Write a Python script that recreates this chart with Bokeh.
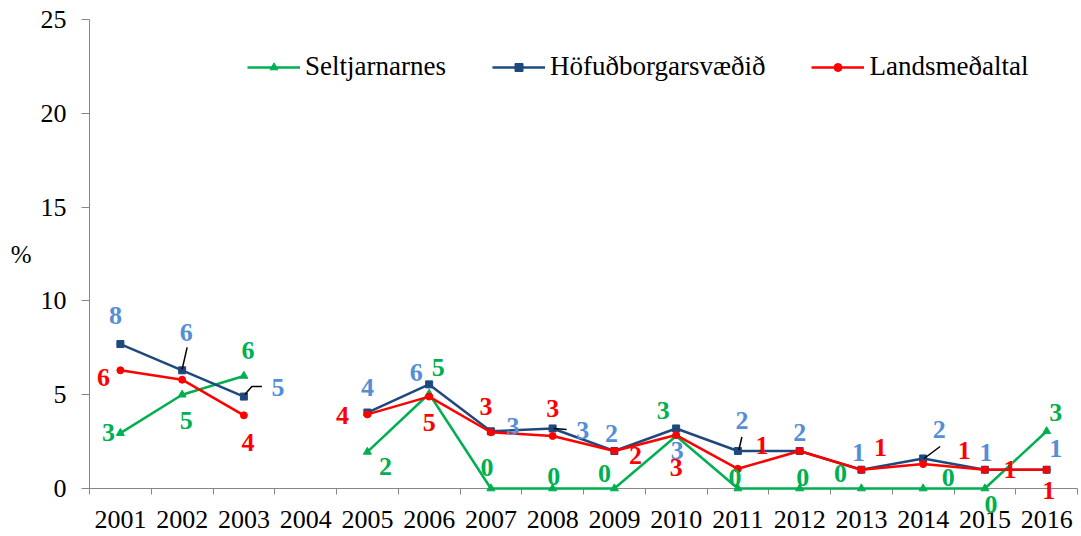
import math
from bokeh.plotting import figure
from bokeh.models import Range1d, FixedTicker, Legend, LegendItem, ColumnDataSource
from bokeh.core.properties import value
from bokeh.embed import file_html
from bokeh.resources import INLINE

NaN = float("nan")

# ---------------- data ----------------
years = ["2001", "2002", "2003", "2004", "2005", "2006", "2007", "2008",
         "2009", "2010", "2011", "2012", "2013", "2014", "2015", "2016"]
seltjarnarnes = [2.95, 5.0, 6.0, NaN, 1.95, 5.05, 0, 0, 0, 2.8, 0, 0, 0, 0, 0, 3.05]
hofudborg = [7.7, 6.3, 4.9, NaN, 4.05, 5.55, 3.05, 3.2, 2.0, 3.2, 2.0, 2.0, 1.0, 1.6, 1.0, 1.0]
landsmedaltal = [6.3, 5.8, 3.9, NaN, 3.95, 4.9, 3.0, 2.8, 2.0, 2.85, 1.05, 2.0, 1.0, 1.3, 1.0, 1.0]
y_ticks = [0, 5, 10, 15, 20, 25]

# ---------------- layout / style ----------------
FONT = "Liberation Serif"
GREEN = "#00B050"
BLUE = "#1F497D"
BLUE_LBL = "#558ED5"
RED = "#FF0000"
AX = "#868686"

W, H = 1080, 534
BL, BR, BT, BB = 89, 3, 19, 46
YMIN, YMAX = 0, 25
FRAME_W = W - BL - BR
FRAME_H = H - BT - BB
XPX = FRAME_W / len(years)
YPX = FRAME_H / (YMAX - YMIN)

# label offsets in screen px (dx, dy; dy positive = down), keyed by year
green_off = {"2001": (-12, -1), "2002": (4, 26), "2003": (4, -25), "2005": (18, 15),
             "2006": (9, -26), "2007": (-4, -21), "2008": (1, -12), "2009": (-10, -15),
             "2010": (-13, -25), "2011": (-3, -11), "2012": (3, -11), "2013": (-21, -15),
             "2014": (25, -11), "2015": (6, 16), "2016": (9, -19)}
blue_off = {"2001": (-5, -29), "2002": (4, -38), "2003": (34, -9), "2005": (0, -25),
            "2006": (-13, -12), "2007": (22, -5), "2008": (30, 2), "2009": (-3, -17),
            "2010": (1, 22), "2011": (4, -30), "2012": (0, -18), "2013": (-3, -17),
            "2014": (16, -29), "2015": (1, -17), "2016": (9, -21)}
red_off = {"2001": (-17, 7), "2003": (4, 27), "2005": (-25, 1), "2006": (0, 26),
           "2007": (-5, -26), "2008": (0, -27), "2009": (21, 5), "2010": (0, 32),
           "2011": (24, -23), "2013": (19, -22), "2014": (41, -14), "2015": (25, 0),
           "2016": (2, 21)}
# leader lines for blue labels: polyline offsets in px from the point
blue_leaders = {"2002": [(0, -1), (5, -23)],
                "2003": [(1, -2), (8, -10), (18, -10)],
                "2008": [(1, 0), (14, 1)],
                "2011": [(1, -1), (4, -14)],
                "2014": [(1, 0), (17, -12)]}

xs = [i + 1 for i in range(len(years))]

p = figure(width=W, height=H, output_backend="svg", toolbar_location=None,
           x_range=Range1d(0.5, len(years) + 0.5), y_range=Range1d(YMIN, YMAX),
           min_border_left=BL, min_border_right=BR, min_border_top=BT, min_border_bottom=BB)
p.outline_line_color = None
p.xgrid.visible = False
p.ygrid.visible = False
p.background_fill_color = "white"
p.border_fill_color = "white"

# y axis
yax = p.yaxis[0]
yax.ticker = FixedTicker(ticks=y_ticks)
yax.axis_line_color = AX
yax.major_tick_line_color = AX
yax.minor_tick_line_color = None
yax.major_tick_in = 0
yax.major_tick_out = 8
yax.major_label_standoff = 15
yax.major_label_text_font = FONT
yax.major_label_text_font_size = "26px"
yax.major_label_text_color = "black"
yax.axis_label = "%"
yax.axis_label_orientation = "horizontal"
yax.axis_label_text_font = FONT
yax.axis_label_text_font_style = "normal"
yax.axis_label_text_font_size = "25px"
yax.axis_label_text_color = "black"
yax.axis_label_standoff = 6

# x axis
xax = p.xaxis[0]
xax.ticker = FixedTicker(ticks=xs, minor_ticks=[x - 0.5 for x in xs] + [xs[-1] + 0.5])
xax.major_label_overrides = {float(x): y for x, y in zip(xs, years)}
xax.axis_line_color = AX
xax.major_tick_line_color = None
xax.major_tick_out = 0
xax.major_tick_in = 0
xax.minor_tick_line_color = AX
xax.minor_tick_out = 6
xax.minor_tick_in = 0
xax.major_label_standoff = 16
xax.major_label_text_font = FONT
xax.major_label_text_font_size = "26px"
xax.major_label_text_color = "black"

series = [
    ("Seltjarnarnes", seltjarnarnes, GREEN, GREEN, "triangle", 8, green_off),
    ("Höfuðborgarsvæðið", hofudborg, BLUE, BLUE_LBL, "square", 7, blue_off),
    ("Landsmeðaltal", landsmedaltal, RED, RED, "circle", 7, red_off),
]

items = []
for name, vals, col, lcol, marker, msize, _ in series:
    src = ColumnDataSource(dict(x=xs, y=vals))
    ln = p.line("x", "y", source=src, line_color=col, line_width=2.5, level="overlay")
    sc = p.scatter("x", "y", source=src, marker=marker, size=msize,
                   fill_color=col, line_color=col, level="overlay")
    items.append(LegendItem(label=name, renderers=[ln, sc]))

# leader lines
lx, ly = [], []
for yr, pts in blue_leaders.items():
    i = years.index(yr)
    lx.append([xs[i] + dx / XPX for dx, dy in pts])
    ly.append([hofudborg[i] - dy / YPX for dx, dy in pts])
p.multi_line(lx, ly, line_color="black", line_width=1.5, level="overlay")

# data labels
for name, vals, col, lcol, marker, msize, offs in series:
    d = dict(x=[], y=[], t=[], dx=[], dy=[])
    for i, yr in enumerate(years):
        v = vals[i]
        if yr in offs and not math.isnan(v):
            d["x"].append(xs[i]); d["y"].append(v)
            d["t"].append(f"{v:.0f}")
            d["dx"].append(offs[yr][0]); d["dy"].append(offs[yr][1])
    p.text("x", "y", text="t", x_offset="dx", y_offset="dy", source=ColumnDataSource(d),
           text_font=value(FONT), text_font_style="bold", text_font_size="26px",
           text_color=lcol, text_align="center", text_baseline="middle", level="overlay")

legend = Legend(items=items, orientation="horizontal", location=(158, FRAME_H - 63))
legend.border_line_color = None
legend.background_fill_alpha = 0
legend.padding = 0
legend.margin = 0
legend.spacing = 46
legend.glyph_width = 53
legend.glyph_height = 20
legend.label_standoff = 5
legend.label_text_font = FONT
legend.label_text_font_size = "27px"
legend.label_text_color = "black"
p.add_layout(legend)

open("out.html", "w").write(file_html(p, INLINE))
